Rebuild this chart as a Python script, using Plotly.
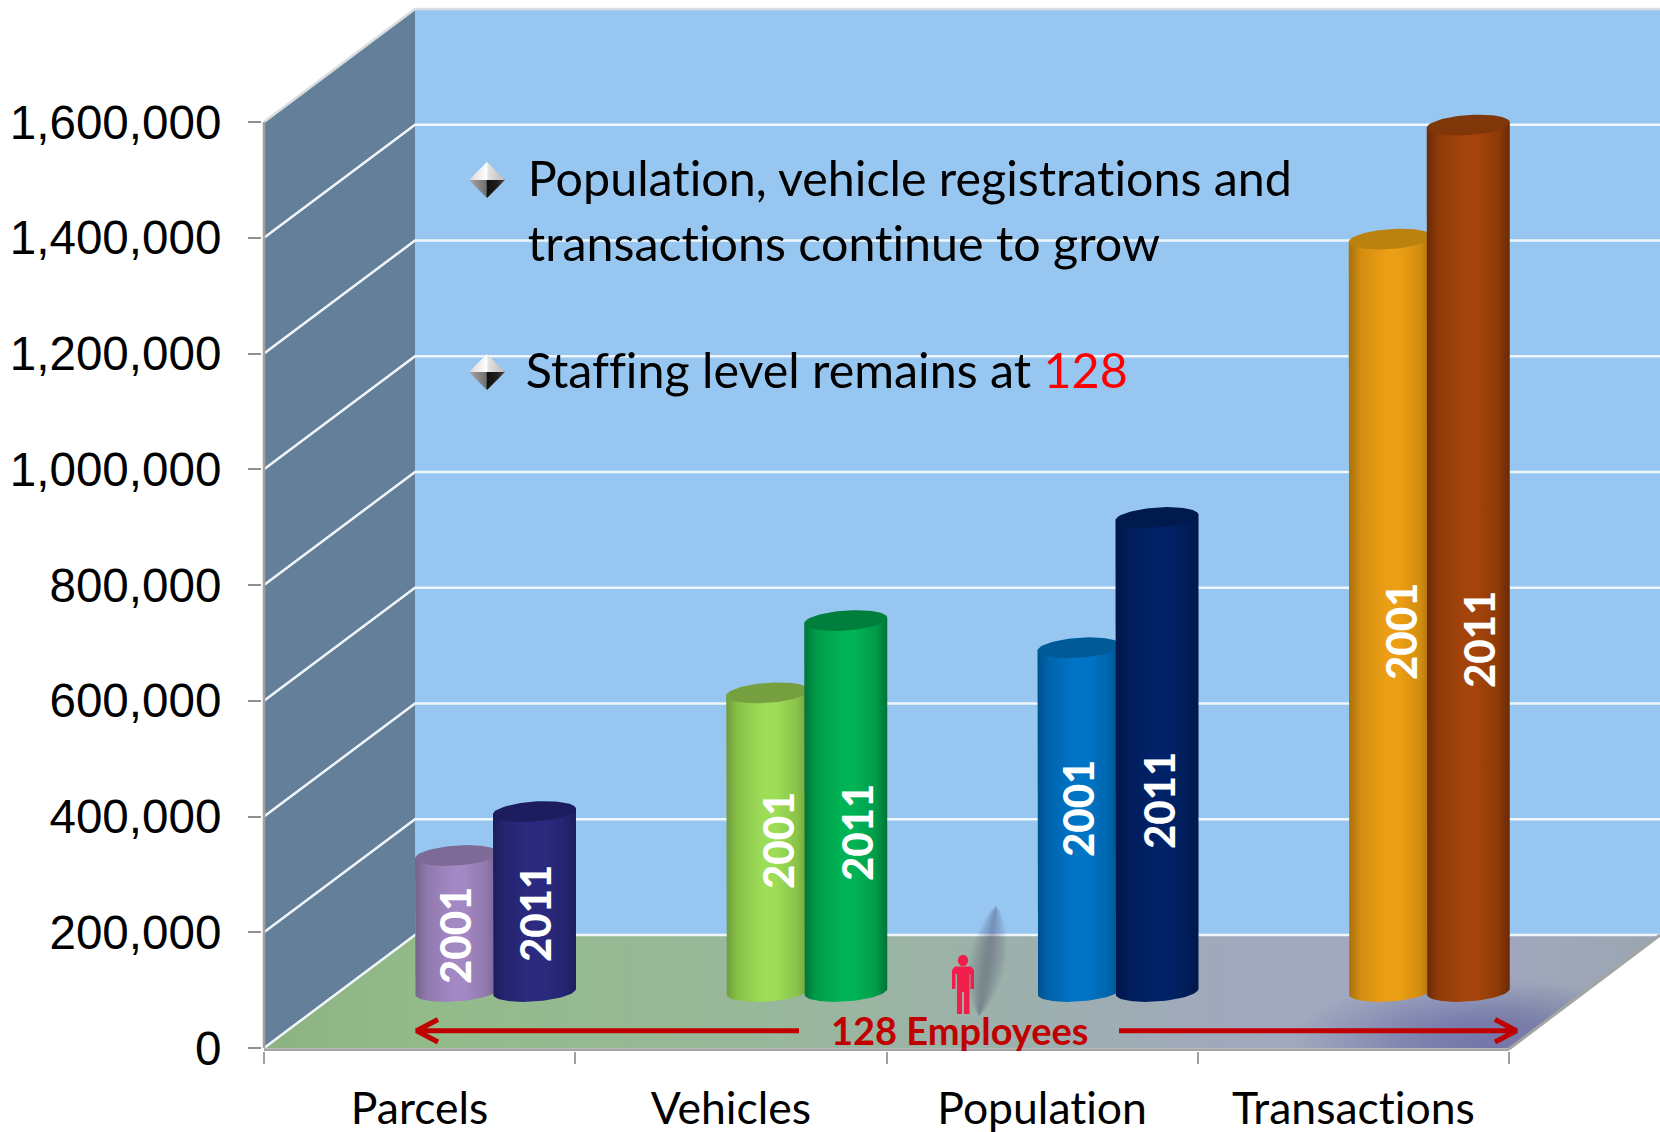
import numpy as np
import plotly.graph_objects as go

# ---------- data ----------
categories = ["Parcels", "Vehicles", "Population", "Transactions"]
values_2001 = [235000, 516000, 594000, 1300000]
values_2011 = [311000, 641000, 819000, 1497000]
y_ticks = [0, 200000, 400000, 600000, 800000, 1000000, 1200000, 1400000, 1600000]
y_tick_labels = ["0", "200,000", "400,000", "600,000", "800,000", "1,000,000", "1,200,000", "1,400,000", "1,600,000"]
series_labels = ["2001", "2011"]
bullet_lines = ["Population, vehicle registrations and", "transactions continue to grow"]
staff_line = "Staffing level remains at "
staff_count = "128"
employee_label = "128 Employees"

# ---------- styling per cylinder: (edge, mid, centre, lid) ----------
colors_2001 = [("#75628d", "#9079ad", "#a388c4", "#7d6a96"),
               ("#6f9c3c", "#88c249", "#9edd58", "#76a040"),
               ("#00508c", "#0064ad", "#0075c6", "#005a98"),
               ("#a8700d", "#d28d10", "#ec9f14", "#bc8210")]
colors_2011 = [("#1c1c5e", "#242470", "#2b2a80", "#1d1c5e"),
               ("#00733a", "#009c48", "#00b455", "#007f3c"),
               ("#00174a", "#001d58", "#012268", "#001a4e"),
               ("#6a2a06", "#8f3a08", "#a4440a", "#7f3608")]

# ---------- geometry (pixel scale of the axes) ----------
PX_LEFT, PX_ZERO, PX_CAT, PX_200K = 264.0, 1048.0, 311.25, 115.75
def X(px): return (px - PX_LEFT) / PX_CAT
def Y(px): return (PX_ZERO - px) * 200000 / PX_200K
def dx_px(p): return p / PX_CAT
def dy_px(p): return p * 200000 / PX_200K

DEPTH_X, DEPTH_Y = dx_px(151), dy_px(113)
X_MAX, Y_TOP = X(1660), Y(0)
X_MIN, Y_MIN = X(262), Y(1051)
TOP = y_ticks[-1]

fig = go.Figure()

def poly(xs, ys, color=None, gradient=None):
    t = dict(x=list(xs), y=list(ys), mode="lines", fill="toself", line=dict(width=0),
             hoverinfo="skip", showlegend=False)
    if gradient is not None:
        t["fillgradient"] = gradient
    else:
        t["fillcolor"] = color
    fig.add_trace(go.Scatter(**t))

def line(xs, ys, color, width):
    fig.add_trace(go.Scatter(x=list(xs), y=list(ys), mode="lines", line=dict(color=color, width=width),
                             hoverinfo="skip", showlegend=False))

# walls
poly([0, DEPTH_X, DEPTH_X, 0], [0, DEPTH_Y, TOP + DEPTH_Y, TOP], "#647f9a")
poly([DEPTH_X, X_MAX, X_MAX, DEPTH_X], [DEPTH_Y, DEPTH_Y, TOP + DEPTH_Y, TOP + DEPTH_Y], "#97c7f0")

# floor
floor_x = [0, DEPTH_X, X_MAX, 4]
floor_y = [0, DEPTH_Y, DEPTH_Y, 0]
poly(floor_x, floor_y, gradient=dict(type="horizontal", colorscale=[
    [0, "#8db282"], [0.12, "#93bb8a"], [0.35, "#98b89a"], [0.5, "#9cb2a8"],
    [0.68, "#a0a9bc"], [0.85, "#a2a8c2"], [1, "#9ba5b0"]]))

# darker glow in the front right floor corner
for rx, ry in zip(np.linspace(190, 14, 28), np.linspace(58, 7, 28)):
    t = np.linspace(0, 2 * np.pi, 90)
    px = 1486 + rx * np.cos(t)
    py = 1038 + ry * np.sin(t)
    py = np.clip(py, 936, 1048)
    px = np.minimum(px, 1509 + (1048 - py) * 151 / 112)
    poly(X(px), Y(py), "rgba(72,78,165,0.024)")

# gridlines
for v in y_ticks:
    if v == TOP:
        line([0, DEPTH_X, X_MAX], [v, v + DEPTH_Y, v + DEPTH_Y], "#d9dde0", 2.5)
    else:
        line([0, DEPTH_X, X_MAX], [v, v + DEPTH_Y, v + DEPTH_Y], "#f0f7fc", 2.5)

# outer axis edges
line([0, 0], [0, TOP], "#a0a0a0", 2.5)
line([4, 4 + DEPTH_X], [Y(1049), DEPTH_Y], "#a4a4a4", 3)
line([0, 4], [Y(1050), Y(1050)], "#a4a4a4", 3.5)

# person shadow: soft streak
s = np.linspace(0, 1, 24)
for w in np.linspace(19, 2, 16):
    cx = 996 - 17 * s
    cy = 906 + 110 * s
    hw = w * np.sin(np.pi * s) ** 0.7
    poly(X(np.concatenate([cx - hw, (cx + hw)[::-1]])), Y(np.concatenate([cy, cy[::-1]])), "rgba(70,85,100,0.026)")

# person
t = np.linspace(0, 2 * np.pi, 30)
poly(X(963 + 5.2 * np.cos(t)), Y(960.5 + 5.6 * np.sin(t)), "#f01e4a")
poly(X(np.array([955, 971, 974, 974, 970.5, 970.5, 969.5, 969.5, 964, 964, 962, 962, 957, 957, 955.5, 955.5, 952, 952])),
     Y(np.array([966.5, 966.5, 970, 989, 989, 974, 974, 1014, 1014, 992, 992, 1014, 1014, 974, 974, 989, 989, 970])),
     "#f01e4a")

# cylinders
RADIUS = dx_px(41.5)
CAP_H = dy_px(10)
TILT = dy_px(2.8)
BASE = DEPTH_Y / 2
OFFSETS = [0.6185, 0.869]

def cylinder(cx, value, c):
    t = np.linspace(0, np.pi, 40)
    bx = cx - RADIUS * np.cos(t)
    by = BASE - CAP_H * np.sin(t) - TILT * np.cos(t)
    top_y = BASE + value
    xs = np.concatenate([[cx - RADIUS], bx, [cx + RADIUS]])
    ys = np.concatenate([[top_y - TILT], by, [top_y + TILT]])
    edge, mid, centre, lid = c
    poly(xs, ys, gradient=dict(type="horizontal", colorscale=[
        [0, edge], [0.14, mid], [0.45, centre], [0.6, centre], [0.86, mid], [1, edge]]))
    t = np.linspace(0, 2 * np.pi, 72)
    poly(cx + RADIUS * np.cos(t), top_y + CAP_H * np.sin(t) + TILT * np.cos(t), lid)

for i in range(len(categories)):
    cylinder(i + OFFSETS[0], values_2001[i], colors_2001[i])
    cylinder(i + OFFSETS[1], values_2011[i], colors_2011[i])

# diamonds
def diamond(cx, cy, s=18):
    poly(X(np.array([cx - s, cx, cx + s])), Y(np.array([cy, cy - s, cy])),
         gradient=dict(type="horizontal", colorscale=[[0, "#d8d8d8"], [0.5, "#ffffff"], [0.52, "#e4e4e4"], [1, "#b8b8b8"]]))
    poly(X(np.array([cx - s, cx, cx + s])), Y(np.array([cy, cy + s, cy])),
         gradient=dict(type="horizontal", colorscale=[[0, "#a8a8a8"], [0.48, "#707070"], [0.5, "#101010"], [0.8, "#202020"], [1, "#505050"]]))
diamond(487, 180)
diamond(487, 372)

# arrows
RED = "#c00000"
y_arrow = Y(1030.7)
line([X(799), X(418)], [y_arrow, y_arrow], RED, 5)
line([X(1119), X(1515)], [y_arrow, y_arrow], RED, 5)
line([X(438), X(416.5), X(438)], [Y(1019.5), y_arrow, Y(1042)], RED, 5)
line([X(1495), X(1516.5), X(1495)], [Y(1019.5), y_arrow, Y(1042)], RED, 5)

# text
TEXT_FONT = "Lato"
annotations = []
def note(px, py, text, size, color="#000000", anchor="left", weight="normal", angle=0):
    annotations.append(dict(x=X(px), y=Y(py), xref="x", yref="y", text=text,
                            showarrow=False, xanchor=anchor, yanchor="middle", textangle=angle,
                            font=dict(family=TEXT_FONT, size=size, color=color, weight=weight), borderpad=0))

note(526, 177, bullet_lines[0], 48.4)
note(526, 242, bullet_lines[1], 48.4)
note(526, 369, staff_line + '<span style="color:#ff0000">%s</span>' % staff_count, 48.4)
note(960, 1030, employee_label, 38, color=RED, anchor="center", weight=700)

label_x_2001 = [455, 778, 1078, 1401]
label_x_2011 = [535, 857, 1159, 1479]
label_y_2001 = [936, 841, 809, 632]
label_y_2011 = [914, 833, 801, 640]
for i in range(4):
    note(label_x_2001[i], label_y_2001[i], series_labels[0], 42, color="#ffffff", anchor="center", weight=900, angle=-90)
    note(label_x_2011[i], label_y_2011[i], series_labels[1], 42, color="#ffffff", anchor="center", weight=900, angle=-90)

fig.update_layout(
    width=1660, height=1132, paper_bgcolor="#ffffff", plot_bgcolor="rgba(0,0,0,0)",
    margin=dict(l=262, r=0, t=0, b=81, pad=0), showlegend=False, annotations=annotations,
    xaxis=dict(range=[X_MIN, X_MAX], showgrid=False, zeroline=False, showline=False, fixedrange=True,
               tickmode="array", tickvals=[i + 0.5 for i in range(4)], ticktext=categories, ticks="",
               ticklabelstandoff=27, tickfont=dict(family=TEXT_FONT, size=44.5, color="#000000"),
               minor=dict(ticks="outside", tickmode="array", tickvals=[0, 1, 2, 3, 4], ticklen=12,
                          tickwidth=2, tickcolor="#a0a0a0", showgrid=False)),
    yaxis=dict(range=[Y_MIN, Y_TOP], showgrid=False, zeroline=False, showline=False, fixedrange=True,
               tickmode="array", tickvals=y_ticks, ticktext=y_tick_labels, ticks="outside", ticklen=13,
               tickwidth=2, tickcolor="#909090", ticklabelstandoff=17,
               tickfont=dict(family="Liberation Sans", size=47.6, color="#000000")),
)

fig.write_html("out.html", config={"displayModeBar": False},
               post_script="document.body.style.margin='0';document.body.style.overflow='hidden';"
                           "var g=document.getElementById('{plot_id}');"
                           "function nolig(){g.querySelectorAll('text').forEach(function(t){t.style.fontVariantLigatures='none';});}"
                           "nolig();setTimeout(nolig,50);")
